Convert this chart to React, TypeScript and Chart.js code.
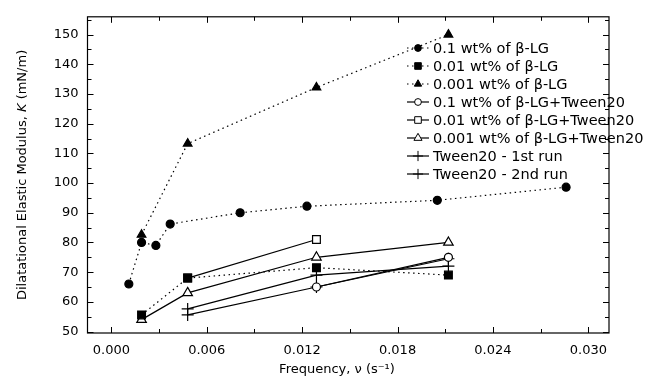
import React, { useEffect, useRef } from 'react';
import { Chart, registerables } from 'chart.js';
Chart.register(...registerables);

// ---- data ----
const FREQ_A = [0.0011, 0.0019, 0.0028, 0.0037, 0.0081, 0.0123, 0.0205, 0.0286];
const K_BLG_01 = [66, 80, 79, 86.2, 90, 92.2, 94.2, 98.6];
const FREQ_STD = [0.0019, 0.0048, 0.0129, 0.0212];
const K_BLG_001 = [55.6, 68, 71.5, 69];
const K_BLG_0001 = [82.6, 113.3, 132.2, 150];
const FREQ_D = [0.0129, 0.0212];
const K_TW_01 = [65, 75];
const FREQ_E = [0.0048, 0.0129];
const K_TW_001 = [68, 81];
const K_TW_0001 = [54, 63, 75, 80];
const FREQ_T = [0.0048, 0.0129, 0.0212];
const K_TW_RUN1 = [57.6, 69, 72];
const K_TW_RUN2 = [55.6, 65, 74.5];

const LABELS = [
  '0.1 wt% of \u03B2-LG',
  '0.01 wt% of \u03B2-LG',
  '0.001 wt% of \u03B2-LG',
  '0.1 wt% of \u03B2-LG+Tween20',
  '0.01 wt% of \u03B2-LG+Tween20',
  '0.001 wt% of \u03B2-LG+Tween20',
  'Tween20 - 1st run',
  'Tween20 - 2nd run',
];
const X_TICKS = [0, 0.006, 0.012, 0.018, 0.024, 0.03];
const Y_TICKS = [50, 60, 70, 80, 90, 100, 110, 120, 130, 140, 150];
const X_MIN = -0.0015, X_MAX = 0.0313;
const Y_MIN = 49.5, Y_MAX = 156;

const FONT = '"DejaVu Sans", Arial, sans-serif';

const pts = (xs: number[], ys: number[]) => xs.map((x, i) => ({ x, y: ys[i] }));

type Style = { ps: string; r: number; fill: string; dash: number[] };
const STYLES: Style[] = [
  { ps: 'circle', r: 4, fill: '#000', dash: [1.5, 3.5] },
  { ps: 'rect', r: 5.5, fill: '#000', dash: [1.5, 3.5] },
  { ps: 'triangle', r: 5, fill: '#000', dash: [1.5, 3.5] },
  { ps: 'circle', r: 4, fill: '#fff', dash: [] },
  { ps: 'rect', r: 5.5, fill: '#fff', dash: [] },
  { ps: 'triangle', r: 5.5, fill: '#fff', dash: [] },
  { ps: 'cross', r: 6, fill: '#fff', dash: [] },
  { ps: 'cross', r: 6, fill: '#fff', dash: [] },
];

const SERIES = [
  pts(FREQ_A, K_BLG_01),
  pts(FREQ_STD, K_BLG_001),
  pts(FREQ_STD, K_BLG_0001),
  pts(FREQ_D, K_TW_01),
  pts(FREQ_E, K_TW_001),
  pts(FREQ_STD, K_TW_0001),
  pts(FREQ_T, K_TW_RUN1),
  pts(FREQ_T, K_TW_RUN2),
];

function marker(ctx: CanvasRenderingContext2D, st: Style, x: number, y: number, r: number) {
  ctx.beginPath();
  if (st.ps === 'circle') {
    ctx.arc(x, y, r, 0, Math.PI * 2);
  } else if (st.ps === 'rect') {
    const s = r * Math.SQRT1_2;
    ctx.rect(x - s, y - s, 2 * s, 2 * s);
  } else if (st.ps === 'triangle') {
    ctx.moveTo(x, y - r);
    ctx.lineTo(x + r * 0.866, y + r * 0.5);
    ctx.lineTo(x - r * 0.866, y + r * 0.5);
    ctx.closePath();
  } else {
    ctx.moveTo(x - r, y); ctx.lineTo(x + r, y);
    ctx.moveTo(x, y - r); ctx.lineTo(x, y + r);
    ctx.stroke();
    return;
  }
  ctx.fillStyle = st.fill;
  ctx.fill();
  ctx.stroke();
}

const decorPlugin = {
  id: 'decor',
  afterDraw(chart: any) {
    const ctx = chart.ctx as CanvasRenderingContext2D;
    const a = chart.chartArea;
    const xs = chart.scales.x, ys = chart.scales.y;
    ctx.save();
    ctx.strokeStyle = '#000';
    ctx.lineWidth = 1.2;
    ctx.setLineDash([]);
    ctx.strokeRect(a.left, a.top, a.right - a.left, a.bottom - a.top);
    ctx.lineWidth = 1;
    for (let i = 0; i <= 10; i++) {
      const v = i * 0.003;
      const px = Math.round(xs.getPixelForValue(v)) + 0.5;
      const len = i % 2 === 0 ? 6 : 4;
      ctx.beginPath();
      ctx.moveTo(px, a.bottom); ctx.lineTo(px, a.bottom - len);
      ctx.moveTo(px, a.top); ctx.lineTo(px, a.top + len);
      ctx.stroke();
    }
    for (let v = 50; v <= 155; v += 5) {
      const py = Math.round(ys.getPixelForValue(v)) + 0.5;
      const len = v % 10 === 0 ? 6 : 4;
      ctx.beginPath();
      ctx.moveTo(a.left, py); ctx.lineTo(a.left + len, py);
      ctx.moveTo(a.right, py); ctx.lineTo(a.right - len, py);
      ctx.stroke();
    }
    // legend
    ctx.textBaseline = 'middle';
    ctx.textAlign = 'left';
    LABELS.forEach((lab, i) => {
      const y = 48 + i * 18;
      const st = STYLES[i];
      ctx.save();
      ctx.strokeStyle = '#000';
      ctx.lineWidth = 1.2;
      ctx.setLineDash(st.dash);
      ctx.beginPath();
      ctx.moveTo(407, y); ctx.lineTo(429, y);
      ctx.stroke();
      ctx.setLineDash([]);
      ctx.lineWidth = 1;
      marker(ctx, st, 418, y, st.r * 0.85);
      ctx.restore();
      ctx.fillStyle = '#000';
      ctx.font = `14.5px ${FONT}`;
      ctx.fillText(lab, 433, y + 1);
    });
    // x title
    ctx.fillStyle = '#000';
    ctx.font = `13px ${FONT}`;
    ctx.textAlign = 'center';
    ctx.fillText('Frequency, \u03BD (s\u207B\u00B9)', 337, 370);
    // y title with italic K
    const p1 = 'Dilatational Elastic Modulus, ';
    const p2 = 'K';
    const p3 = ' (mN/m)';
    ctx.translate(23, (a.top + a.bottom) / 2);
    ctx.rotate(-Math.PI / 2);
    ctx.font = `13px ${FONT}`;
    const w1 = ctx.measureText(p1).width;
    const w3 = ctx.measureText(p3).width;
    ctx.font = `italic 13px ${FONT}`;
    const w2 = ctx.measureText(p2).width;
    let x = -(w1 + w2 + w3) / 2;
    ctx.textAlign = 'left';
    ctx.font = `13px ${FONT}`;
    ctx.fillText(p1, x, 0); x += w1;
    ctx.font = `italic 13px ${FONT}`;
    ctx.fillText(p2, x, 0); x += w2;
    ctx.font = `13px ${FONT}`;
    ctx.fillText(p3, x, 0);
    ctx.restore();
  },
};

export default function App() {
  const ref = useRef<HTMLCanvasElement>(null);
  useEffect(() => {
    if (!ref.current) return;
    const chart = new Chart(ref.current, {
      type: 'line',
      data: {
        datasets: SERIES.map((d, i) => ({
          label: LABELS[i],
          data: d,
          borderColor: '#000',
          backgroundColor: STYLES[i].fill,
          borderWidth: 1.2,
          borderDash: STYLES[i].dash,
          pointStyle: STYLES[i].ps as any,
          pointRadius: STYLES[i].r,
          pointBorderWidth: 1.2,
          pointBorderColor: '#000',
          pointBackgroundColor: STYLES[i].fill,
          tension: 0,
          fill: false,
        })),
      },
      options: {
        responsive: false,
        animation: false,
        layout: { padding: { left: 0, top: 13, right: 40, bottom: 0 } },
        plugins: { legend: { display: false }, tooltip: { enabled: false } },
        scales: {
          x: {
            type: 'linear',
            min: X_MIN,
            max: X_MAX,
            afterBuildTicks: (s: any) => { s.ticks = X_TICKS.map((v) => ({ value: v })); },
            afterFit: (s: any) => { s.height = 48; },
            grid: { display: false, drawTicks: false },
            border: { display: false },
            ticks: {
              color: '#000',
              font: { family: FONT, size: 13 },
              padding: 10,
              maxRotation: 0,
              callback: (v: any) => Number(v).toFixed(3),
            },
          },
          y: {
            type: 'linear',
            min: Y_MIN,
            max: Y_MAX,
            afterBuildTicks: (s: any) => { s.ticks = Y_TICKS.map((v) => ({ value: v })); },
            afterFit: (s: any) => { s.width = 87.5; },
            grid: { display: false, drawTicks: false },
            border: { display: false },
            ticks: {
              color: '#000',
              font: { family: FONT, size: 13 },
              padding: 9,
              callback: (v: any) => String(v),
            },
          },
        },
      },
      plugins: [decorPlugin],
    });
    return () => chart.destroy();
  }, []);
  return (
    <div style={{ position: 'fixed', left: 0, top: 0, width: 649, height: 381, background: '#fff' }}>
      <canvas ref={ref} width={649} height={381} style={{ width: 649, height: 381 }} />
    </div>
  );
}
